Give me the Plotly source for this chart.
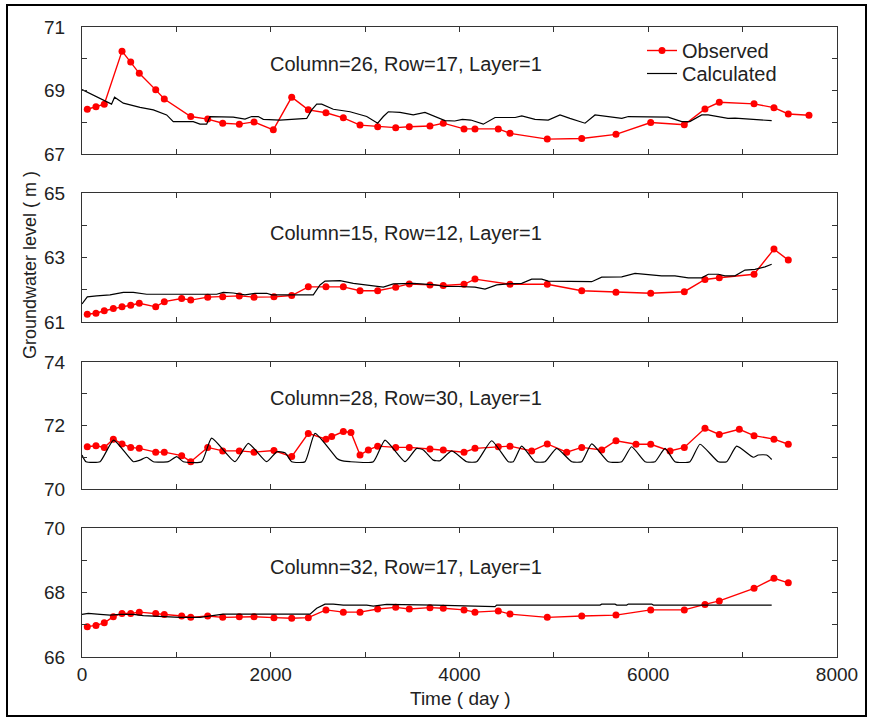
import plotly.graph_objects as go

# ---------------- data ----------------
obs1_x = [56,148,236,424,516,607,781,872,1152,1332,1491,1667,1823,2027,2222,2398,2585,2769,2946,3133,3324,3468,3687,3828,4048,4164,4411,4535,4930,5295,5658,6026,6382,6601,6753,7121,7332,7484,7703]
obs1_y = [68.41,68.49,68.57,70.24,69.90,69.54,69.02,68.73,68.18,68.10,67.97,67.94,68.01,67.76,68.79,68.39,68.30,68.14,67.91,67.86,67.83,67.86,67.88,67.97,67.79,67.79,67.79,67.65,67.47,67.49,67.62,67.99,67.92,68.42,68.63,68.58,68.46,68.26,68.22]
cal1_x = [0,236,313,345,438,615,756,897,967,1179,1250,1321,1356,1603,1727,1798,1868,1921,2098,2381,2434,2487,2540,2663,2840,3017,3133,3193,3246,3370,3510,3634,3740,3846,3950,4030,4120,4252,4377,4590,4660,4800,4940,5065,5170,5330,5436,5650,5720,5790,6210,6355,6440,6566,6635,6845,6920,7308]
cal1_y = [69.03,68.67,68.57,68.79,68.6,68.47,68.39,68.23,68.02,68.02,67.94,67.94,68.18,68.16,68.10,68.18,68.18,68.09,68.07,68.12,68.39,68.57,68.57,68.41,68.33,68.18,67.97,68.18,68.33,68.31,68.23,68.31,68.18,68.05,68.04,68.09,68.07,67.94,68.15,68.15,68.2,68.09,68.07,68.23,68.12,67.97,68.23,68.15,68.12,68.18,68.16,68.02,68.02,68.23,68.23,68.12,68.13,68.05]

obs2_x = [56,148,236,332,424,516,607,781,872,1056,1152,1332,1491,1667,1823,2034,2222,2398,2585,2769,2946,3133,3324,3468,3687,3828,4048,4164,4535,4930,5295,5658,6026,6382,6601,6753,7121,7332,7484]
obs2_y = [61.24,61.27,61.35,61.42,61.47,61.52,61.58,61.47,61.63,61.73,61.68,61.77,61.78,61.81,61.77,61.78,61.82,62.09,62.09,62.09,61.97,61.97,62.08,62.18,62.15,62.13,62.17,62.33,62.17,62.17,61.97,61.92,61.89,61.94,62.32,62.37,62.48,63.26,62.92]
cal2_x = [0,56,155,297,438,544,685,1427,1497,1603,1727,1833,1957,2010,2451,2522,2575,2734,2875,3017,3193,3299,3511,3740,3846,3988,4164,4270,4394,4517,4659,4765,4871,4941,5153,5295,5401,5507,5648,5719,5860,6001,6142,6283,6424,6566,6636,6742,6813,6919,7025,7131,7237,7308]
cal2_y = [61.56,61.78,61.81,61.84,61.92,61.92,61.86,61.86,61.92,61.9,61.84,61.89,61.89,61.84,61.84,62.15,62.27,62.28,62.2,62.15,62.08,62.18,62.2,62.15,62.1,62.1,62.08,62.02,62.15,62.18,62.2,62.33,62.33,62.27,62.27,62.25,62.25,62.39,62.39,62.4,62.51,62.46,62.43,62.43,62.37,62.37,62.48,62.48,62.43,62.43,62.61,62.63,62.71,62.79]

obs3_x = [56,148,236,332,424,516,607,781,872,1056,1152,1332,1491,1667,1823,2034,2222,2398,2585,2646,2769,2850,2946,3034,3133,3324,3468,3687,3828,4048,4164,4411,4535,4765,4930,5136,5295,5507,5658,5870,6026,6231,6382,6601,6753,6965,7121,7332,7484]
obs3_y = [71.33,71.36,71.31,71.57,71.42,71.31,71.28,71.16,71.16,71.05,70.86,71.31,71.20,71.20,71.16,71.21,71.02,71.75,71.57,71.65,71.81,71.78,71.07,71.23,71.35,71.31,71.31,71.26,71.23,71.16,71.28,71.33,71.35,71.20,71.42,71.16,71.31,71.23,71.52,71.41,71.41,71.20,71.31,71.91,71.72,71.88,71.68,71.57,71.41]
cal3_x = [0,42,191,335,544,615,685,756,914,1003,1073,1268,1374,1621,1762,1957,2063,2151,2222,2363,2469,2699,2734,2840,3087,3211,3423,3546,3617,3723,3793,3917,4076,4182,4341,4517,4570,4659,4800,4906,5030,5189,5295,5401,5577,5719,5824,5966,6072,6178,6283,6442,6548,6742,6831,6937,7113,7166,7255,7308]
cal3_y = [71.07,70.86,70.86,71.54,70.86,70.91,71.0,70.86,70.86,71.02,70.86,70.86,71.6,70.86,71.44,70.86,71.17,71.14,70.86,70.86,71.75,70.97,70.91,70.86,70.86,71.54,70.86,71.28,71.23,70.91,70.89,71.2,70.86,70.86,71.52,70.86,70.86,71.35,70.86,70.86,71.28,70.86,70.86,71.42,70.86,70.86,71.33,70.86,70.86,71.28,70.86,70.86,71.41,70.86,70.86,71.35,71.0,71.07,71.07,70.93]

obs4_x = [56,148,236,332,424,516,607,781,872,1056,1152,1332,1491,1667,1823,2034,2222,2398,2585,2769,2946,3133,3324,3468,3687,3828,4048,4164,4411,4535,4930,5295,5658,6026,6382,6601,6753,7121,7332,7484]
obs4_y = [66.94,66.98,67.06,67.25,67.35,67.35,67.39,67.35,67.32,67.27,67.23,67.27,67.23,67.25,67.25,67.22,67.20,67.22,67.46,67.39,67.39,67.49,67.54,67.49,67.53,67.51,67.46,67.39,67.43,67.33,67.23,67.27,67.30,67.46,67.46,67.63,67.74,68.13,68.44,68.30]
cal4_x = [0,67,191,297,403,544,650,897,1038,1250,1427,1497,2416,2487,2575,2663,2769,3017,3087,3228,3740,4093,4129,4376,4394,5489,5507,5648,5666,5772,5789,6037,6054,7308]
cal4_y = [67.32,67.35,67.32,67.30,67.32,67.32,67.28,67.25,67.23,67.23,67.30,67.33,67.33,67.51,67.64,67.64,67.61,67.61,67.58,67.63,67.61,67.58,67.56,67.56,67.61,67.61,67.64,67.64,67.61,67.61,67.64,67.64,67.61,67.61]

panel_labels = ["Column=26, Row=17, Layer=1", "Column=15, Row=12, Layer=1",
                "Column=28, Row=30, Layer=1", "Column=32, Row=17, Layer=1"]
y_ranges = [(67, 71), (61, 65), (70, 74), (66, 70)]
x_ticks = [0, 1000, 2000, 3000, 4000, 5000, 6000, 7000, 8000]
x_ticktext = ["0", "", "2000", "", "4000", "", "6000", "", "8000"]

obs = [(obs1_x, obs1_y), (obs2_x, obs2_y), (obs3_x, obs3_y), (obs4_x, obs4_y)]
cal = [(cal1_x, cal1_y), (cal2_x, cal2_y), (cal3_x, cal3_y), (cal4_x, cal4_y)]
cal_shape = ["linear", "linear", "spline", "linear"]

# ---------------- layout geometry (pixels) ----------------
W, H = 870, 717
ML, MR, MT, MB = 82, 33, 27, 60
PW = W - ML - MR
PH = H - MT - MB
panels_px = [(27, 154), (193, 322), (362, 489), (528, 657)]
def ydom(top, bot):
    return [(H - MB - bot) / PH, (H - MB - top) / PH]
def px_x(p):
    return (p - ML) / PW
def px_y(p):
    return (H - MB - p) / PH

FONT = "Liberation Sans, Arial, sans-serif"
AX = "#333333"
TXT = "#222222"

fig = go.Figure()
for i in range(4):
    sfx = "" if i == 0 else str(i + 1)
    fig.add_trace(go.Scatter(
        x=obs[i][0], y=obs[i][1], mode="lines+markers", name="Observed",
        line=dict(color="#ff0000", width=1.4),
        marker=dict(color="#ff0000", size=7, symbol="circle"),
        xaxis="x" + sfx, yaxis="y" + sfx, showlegend=(i == 0), legend="legend"))
    fig.add_trace(go.Scatter(
        x=cal[i][0], y=cal[i][1], mode="lines", name="Calculated",
        line=dict(color="#000000", width=1.2, shape=cal_shape[i],
                  **({"smoothing": 0.5} if cal_shape[i] == "spline" else {})),
        xaxis="x" + sfx, yaxis="y" + sfx, showlegend=(i == 0), legend="legend2"))

legend_common = dict(xanchor="left", yanchor="top", bgcolor="rgba(0,0,0,0)",
                     font=dict(size=20, color=TXT))
layout = dict(
    width=W, height=H,
    margin=dict(l=ML, r=MR, t=MT, b=MB),
    paper_bgcolor="white", plot_bgcolor="white",
    font=dict(family=FONT, size=19, color=TXT),
    legend=dict(x=px_x(642), y=px_y(31), **legend_common),
    legend2=dict(x=px_x(642), y=px_y(54), **legend_common),
    annotations=[], shapes=[],
)
for i in range(4):
    sfx = "" if i == 0 else str(i + 1)
    lo, hi = y_ranges[i]
    yt = list(range(lo, hi + 1))
    ytt = [str(v) if (v - lo) % 2 == 0 else "" for v in yt]
    layout["xaxis" + sfx] = dict(
        domain=[0, 1], range=[0, 8000], anchor="y" + sfx,
        tickmode="array", tickvals=x_ticks, ticktext=x_ticktext,
        ticks="inside", ticklen=5, tickcolor=AX, showline=True, linecolor=AX,
        linewidth=1, mirror="ticks", showgrid=False, zeroline=False,
        showticklabels=(i == 3), tickfont=dict(size=19, color=TXT),
        **({} if i == 3 else {"matches": "x4"}))
    layout["yaxis" + sfx] = dict(
        domain=ydom(*panels_px[i]), range=[lo, hi], anchor="x" + sfx,
        tickmode="array", tickvals=yt, ticktext=ytt,
        ticks="inside", ticklen=5, tickcolor=AX, showline=True, linecolor=AX,
        linewidth=1, mirror="ticks", showgrid=False, zeroline=False,
        tickfont=dict(size=19, color=TXT), ticklabelstandoff=12)

label_y_px = [64, 233, 398, 567]
for i in range(4):
    layout["annotations"].append(dict(
        text=panel_labels[i], xref="paper", yref="paper",
        x=px_x(405.5), y=px_y(label_y_px[i]),
        xanchor="center", yanchor="middle", showarrow=False,
        font=dict(size=20, color=TXT)))
layout["annotations"].append(dict(
    text="Groundwater level ( m )", xref="paper", yref="paper",
    x=px_x(30), y=px_y(265), textangle=-90,
    xanchor="center", yanchor="middle", showarrow=False,
    font=dict(size=18, color=TXT)))
layout["annotations"].append(dict(
    text="Time ( day )", xref="paper", yref="paper",
    x=px_x(460), y=px_y(698),
    xanchor="center", yanchor="middle", showarrow=False,
    font=dict(size=19, color=TXT)))
layout["shapes"].append(dict(
    type="rect", xref="paper", yref="paper",
    x0=px_x(7), x1=px_x(866), y0=px_y(716), y1=px_y(5),
    line=dict(color="black", width=2), fillcolor="rgba(0,0,0,0)"))

fig.update_layout(**layout)
fig.write_html("out.html")
